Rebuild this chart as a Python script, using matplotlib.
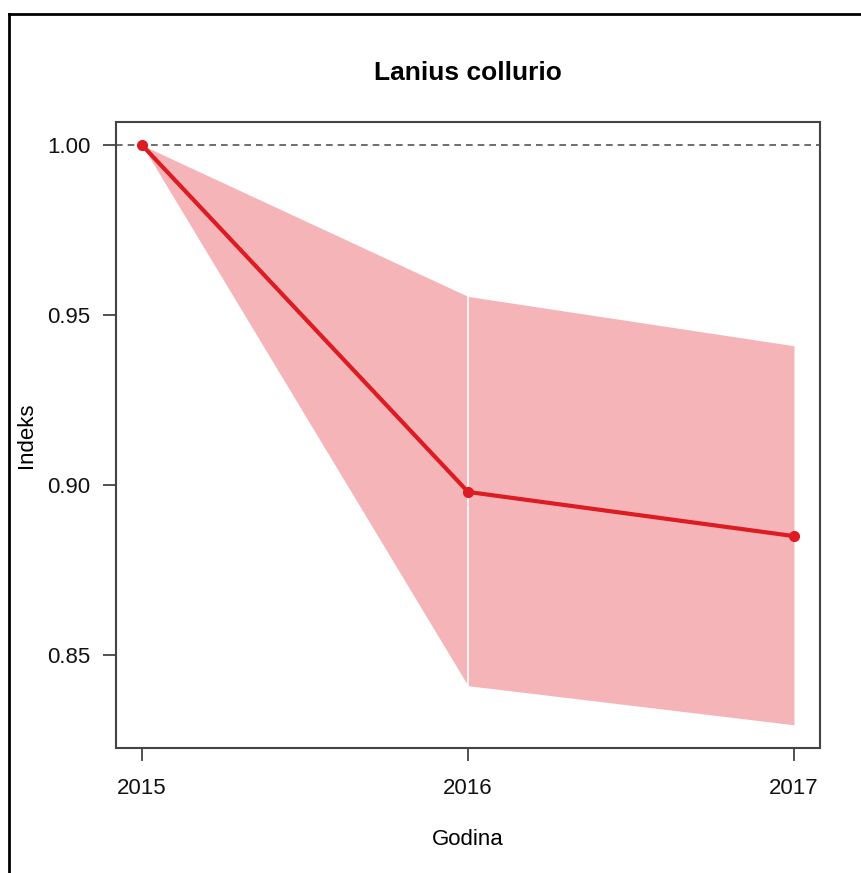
import numpy as np
import matplotlib.pyplot as plt
from matplotlib.lines import Line2D

# data
years = [2015, 2016, 2017]
index = [1.000, 0.898, 0.885]
upper = [1.000, 0.9555, 0.941]
lower = [1.000, 0.841, 0.8295]
yticks = [0.85, 0.90, 0.95, 1.00]

plt.rcParams['font.family'] = ['Liberation Sans', 'DejaVu Sans']

fig = plt.figure(figsize=(8.62, 8.73), dpi=100)
ax = fig.add_axes([0.1346, 0.1432, 0.9513 - 0.1346, 0.8603 - 0.1432])

band = '#F5B5B8'
red = '#DC1C22'

# band drawn as two pieces, like the reference (leaves a thin seam at 2016)
for i in range(len(years) - 1):
    ax.fill_between(years[i:i + 2], lower[i:i + 2], upper[i:i + 2],
                    color=band, linewidth=0, zorder=1)
ax.plot([years[1], years[1]], [lower[1], upper[1]], color='white', lw=1.2, zorder=2)

ax.axhline(1.0, color='#555555', lw=1.2, ls=(0, (4, 3)), zorder=2, clip_on=False)
ax.plot(years, index, color=red, lw=3, marker='o', ms=7, zorder=3)

span_x = years[-1] - years[0]
ax.set_xlim(years[0] - 0.04 * span_x, years[-1] + 0.04 * span_x)
ymin, ymax = min(lower), max(upper)
ax.set_ylim(ymin - 0.04 * (ymax - ymin), ymax + 0.04 * (ymax - ymin))

ax.set_xticks(years)
ax.set_xticklabels([str(y) for y in years])
ax.set_yticks(yticks)
ax.set_yticklabels(['%.2f' % v for v in yticks])
ax.tick_params(axis='both', labelsize=16, length=9.5, width=1.2, color='#333333',
               labelcolor='#111111')
ax.tick_params(axis='x', pad=12)
ax.tick_params(axis='y', pad=9)

for s in ax.spines.values():
    s.set_color('#444444')
    s.set_linewidth(1.5)

ax.set_title('Lanius collurio', fontsize=19, fontweight='bold', pad=30)
ax.set_xlabel('Godina', fontsize=16, labelpad=22)
ax.set_ylabel('Indeks', fontsize=16, labelpad=7)

# outer frame of the original screenshot (left and top edges)
fig.add_artist(Line2D([9 / 862, 9 / 862], [0, 1 - 14 / 873], transform=fig.transFigure,
                      color='black', lw=2))
fig.add_artist(Line2D([9 / 862, 1], [1 - 14 / 873, 1 - 14 / 873], transform=fig.transFigure,
                      color='black', lw=2))

fig.savefig('out.png', dpi=100)
